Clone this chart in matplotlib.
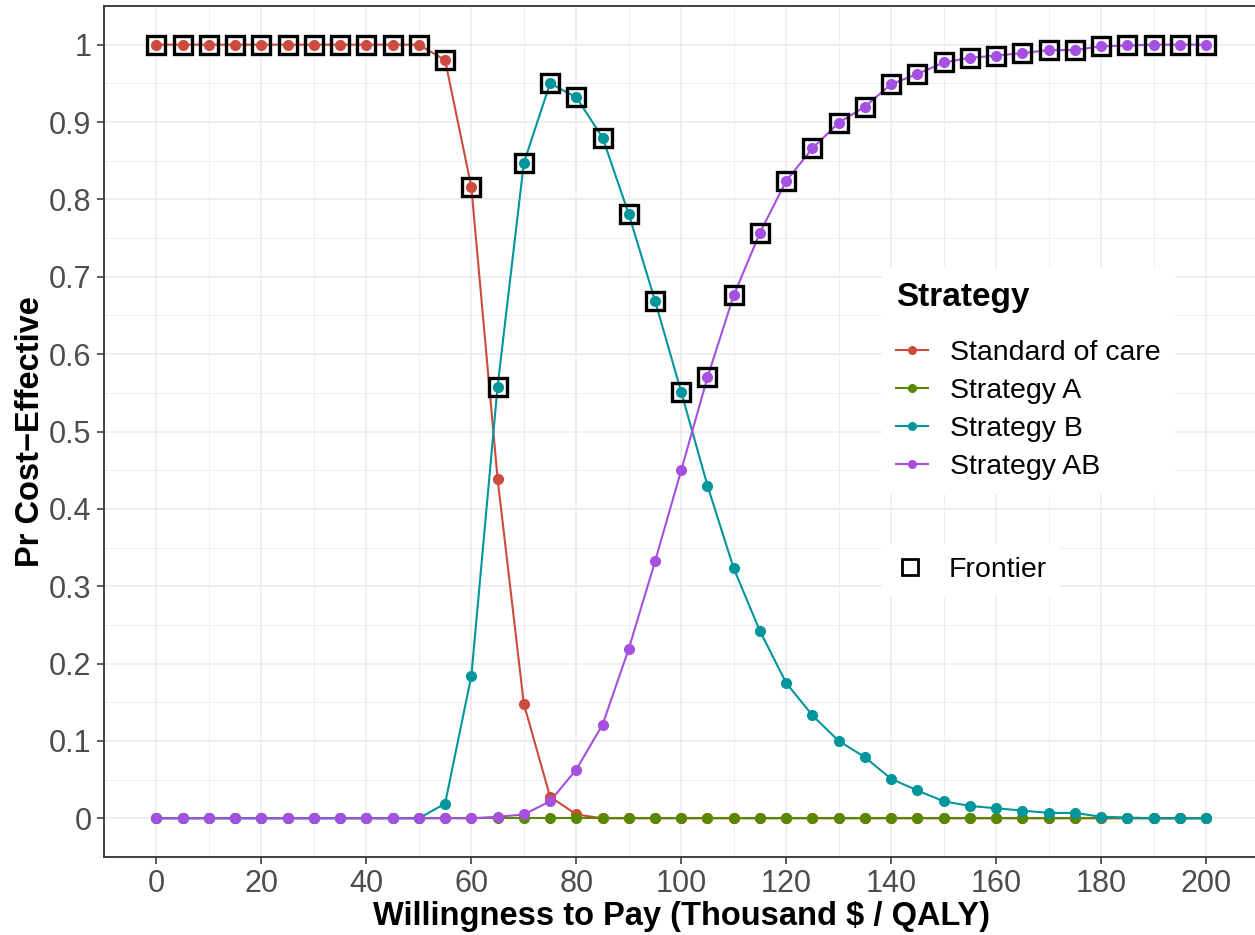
import numpy as np
import matplotlib
matplotlib.use("Agg")
import matplotlib.pyplot as plt
from matplotlib.lines import Line2D
from matplotlib.ticker import MultipleLocator

plt.rcParams['font.family'] = ['Liberation Sans', 'DejaVu Sans']

# willingness to pay (thousand $ / QALY)
wtp = [0, 5, 10, 15, 20, 25, 30, 35, 40, 45, 50, 55, 60, 65, 70, 75, 80, 85, 90, 95, 100,
       105, 110, 115, 120, 125, 130, 135, 140, 145, 150, 155, 160, 165, 170, 175, 180,
       185, 190, 195, 200]

strategies = ["Standard of care", "Strategy A", "Strategy B", "Strategy AB"]

soc = [1.0] * 11 + [0.980, 0.816, 0.439, 0.148, 0.028, 0.005] + [0.0] * 24
strat_a = [0.0] * 41
strat_b = ([0.0] * 11 +
           [0.019, 0.184, 0.558, 0.847, 0.950, 0.932, 0.880, 0.781, 0.669, 0.551,
            0.430, 0.323, 0.242, 0.175, 0.133, 0.100, 0.079, 0.051, 0.036, 0.022,
            0.016, 0.013, 0.010, 0.007, 0.007, 0.002, 0.001, 0.0, 0.0, 0.0])
strat_ab = ([0.0] * 13 +
            [0.002, 0.005, 0.022, 0.063, 0.121, 0.219, 0.332, 0.450,
             0.570, 0.676, 0.757, 0.824, 0.866, 0.899, 0.920, 0.949, 0.962, 0.977,
             0.983, 0.986, 0.989, 0.993, 0.993, 0.998, 0.999, 1.0, 1.0, 1.0])

colors = ['#CD4B3C', '#5A8700', '#00969B', '#A550E1']

series = [soc, strat_a, strat_b, strat_ab]
x = np.array(wtp)
probs = np.array(series)

# frontier = strategy with the highest probability at each WTP
best = probs.argmax(axis=0)
frontier_y = probs[best, np.arange(len(wtp))]

W, H = 1255, 935
fig = plt.figure(figsize=(W / 100, H / 100), dpi=100)
ax = fig.add_axes([104 / W, 1 - 857 / H, (1258.5 - 104) / W, (857 - 6) / H])

# lines first, then points (ggplot layer order)
for s, c in zip(series, colors):
    ax.plot(x, s, color=c, linewidth=1.5, zorder=3)
for s, c in zip(series, colors):
    ax.plot(x, s, linestyle='none', marker='o', markersize=7, color=c, zorder=4)

ax.plot(x, frontier_y, linestyle='none', marker='s', markersize=12.5,
        markerfacecolor='none', markeredgecolor='black', markeredgewidth=2.4, zorder=5)

ax.set_xlim(-10, 210)
ax.set_ylim(-0.05, 1.05)
ax.xaxis.set_major_locator(MultipleLocator(20))
ax.xaxis.set_minor_locator(MultipleLocator(10))
ax.yaxis.set_major_locator(MultipleLocator(0.1))
ax.yaxis.set_minor_locator(MultipleLocator(0.05))
ax.set_yticks(np.arange(0, 1.01, 0.1))
ax.set_yticklabels(['0', '0.1', '0.2', '0.3', '0.4', '0.5', '0.6', '0.7', '0.8', '0.9', '1'])

ax.grid(which='major', color='#EBEBEB', linewidth=1.1, zorder=0)
ax.grid(which='minor', color='#EBEBEB', linewidth=0.55, zorder=0)
ax.set_axisbelow(True)

for sp in ax.spines.values():
    sp.set_color('#333333')
    sp.set_linewidth(1.3)

ax.tick_params(which='major', length=5, width=1.1, color='#333333',
               labelsize=22, labelcolor='#4D4D4D', pad=4)
ax.tick_params(which='minor', length=0)

ax.set_xlabel('Willingness to Pay (Thousand $ / QALY)', fontsize=23.5,
              fontweight='bold', labelpad=1)
ax.set_ylabel('Pr Cost\u2212Effective', fontsize=23.5, fontweight='bold', labelpad=2)

handles = [Line2D([0], [0], color=c, linewidth=1.5, marker='o', markersize=5.5)
           for c in colors]
leg1 = ax.legend(handles, strategies, title='Strategy', loc='upper left',
                 bbox_to_anchor=(882 / W, 1 - 268 / H), bbox_transform=fig.transFigure,
                 fontsize=20.5, title_fontsize=24, frameon=True, fancybox=False,
                 framealpha=1, edgecolor='none', facecolor='white',
                 handlelength=1.1, handletextpad=0.8, labelspacing=0.42,
                 borderpad=0.5, borderaxespad=0)
leg1._legend_box.align = 'left'
leg1._legend_box.sep = 19
leg1.get_title().set_fontweight('bold')
ax.add_artist(leg1)

fh = [Line2D([0], [0], linestyle='none', marker='s', markersize=11,
             markerfacecolor='none', markeredgecolor='black', markeredgewidth=2)]
ax.legend(fh, ['Frontier'], loc='upper left',
          bbox_to_anchor=(882 / W, 1 - 544 / H), bbox_transform=fig.transFigure,
          fontsize=20.5, frameon=True, fancybox=False, framealpha=1,
          edgecolor='none', facecolor='white', handlelength=1.1,
          handletextpad=0.8, borderpad=0.45, borderaxespad=0)

fig.savefig('out.png', dpi=100)
